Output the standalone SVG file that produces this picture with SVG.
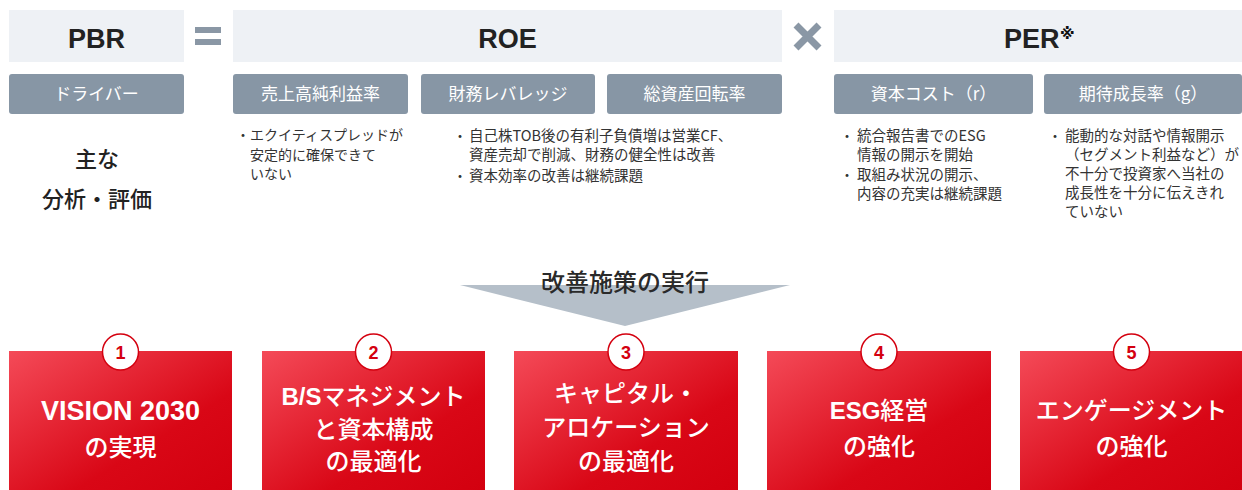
<svg xmlns="http://www.w3.org/2000/svg" width="1242" height="490" viewBox="0 0 1242 490">
  <defs>
    <linearGradient id="redGrad" x1="0" y1="0" x2="1" y2="1">
      <stop offset="0" stop-color="#f44a58"/>
      <stop offset="0.65" stop-color="#d90716"/>
      <stop offset="1" stop-color="#d3000f"/>
    </linearGradient>
    <style>
      .hdr { fill: #eef1f5; }
      .hdrText { font-family: 'Liberation Sans', 'Noto Sans CJK JP', sans-serif; font-weight: bold; font-size: 27px; fill: #222; text-anchor: middle; }
      .drv { fill: #8796a5; }
      .drvText { font-family: 'Noto Sans CJK JP', 'Liberation Sans', sans-serif; font-size: 17px; fill: #fff; text-anchor: middle; }
      .op { fill: #8a97a5; }
      .note { font-family: 'Noto Sans CJK JP', 'Liberation Sans', sans-serif; font-size: 14.5px; fill: #333; }
      .noteS { font-family: 'Noto Sans CJK JP', 'Liberation Sans', sans-serif; font-size: 14px; fill: #333; }
      .bullet { font-family: 'Noto Sans CJK JP', sans-serif; font-size: 14px; fill: #333; text-anchor: middle; }
      .main { font-family: 'Noto Sans CJK JP', sans-serif; font-size: 22px; font-weight: 500; fill: #222; text-anchor: middle; }
      .arrowText { font-family: 'Noto Sans CJK JP', sans-serif; font-size: 24px; font-weight: 500; fill: #2a2a2a; text-anchor: middle; }
      .red { fill: url(#redGrad); }
      .redText { font-family: 'Noto Sans CJK JP', 'Liberation Sans', sans-serif; font-size: 24px; font-weight: 500; fill: #fff; text-anchor: middle; }
      .lat { font-family: 'Liberation Sans', sans-serif; font-weight: bold; }
      .big { font-size: 27px; }
      .circ { fill: #fff; stroke: #d4000f; stroke-width: 1.5; }
      .num { font-family: 'Liberation Sans', sans-serif; font-size: 18px; font-weight: bold; fill: #d4000f; text-anchor: middle; }
      .mark { font-family: 'DejaVu Sans', 'Noto Sans CJK JP', sans-serif; font-size: 15px; font-weight: bold; fill: #111; }
    </style>
  </defs>

  <g id="header-pbr">
    <rect class="hdr" x="9" y="10" width="175" height="52"/>
    <text class="hdrText" x="96.5" y="47.5">PBR</text>
  </g>
  <g id="op-equals">
    <rect class="op" x="195" y="27" width="26" height="6"/>
    <rect class="op" x="195" y="39" width="26" height="6"/>
  </g>
  <g id="header-roe">
    <rect class="hdr" x="233" y="10" width="549" height="52"/>
    <text class="hdrText" x="507.5" y="47.5">ROE</text>
  </g>
  <g id="op-times">
    <path d="M796 25 L819 48 M819 25 L796 48" stroke="#8a97a5" stroke-width="7" fill="none"/>
  </g>
  <g id="header-per">
    <rect class="hdr" x="834" y="10" width="408" height="52"/>
    <text class="hdrText" x="1004" y="47.5" style="text-anchor:start">PER<tspan class="mark" x="1060" y="39">※</tspan></text>
  </g>

  <g id="driver-label">
    <rect class="drv" x="9" y="74" width="175" height="40" rx="3"/>
    <text class="drvText" x="96.5" y="100">ドライバー</text>
  </g>
  <g id="driver-margin">
    <rect class="drv" x="233" y="74" width="175" height="40" rx="3"/>
    <text class="drvText" x="320.5" y="100">売上高純利益率</text>
  </g>
  <g id="driver-leverage">
    <rect class="drv" x="421" y="74" width="174" height="40" rx="3"/>
    <text class="drvText" x="508" y="100">財務レバレッジ</text>
  </g>
  <g id="driver-turnover">
    <rect class="drv" x="607" y="74" width="175" height="40" rx="3"/>
    <text class="drvText" x="694.5" y="100">総資産回転率</text>
  </g>
  <g id="driver-cost">
    <rect class="drv" x="834" y="74" width="199" height="40" rx="3"/>
    <text class="drvText" x="933.5" y="100">資本コスト（r）</text>
  </g>
  <g id="driver-growth">
    <rect class="drv" x="1044" y="74" width="198" height="40" rx="3"/>
    <text class="drvText" x="1143" y="100">期待成長率（g）</text>
  </g>

  <g id="analysis-title">
    <text class="main" x="97" y="166.5">主な</text>
    <text class="main" x="97" y="206.5">分析・評価</text>
  </g>
  <g id="analysis-margin">
    <text class="bullet" x="243" y="140">・</text>
    <text class="noteS" x="250" y="140">エクイティスプレッドが</text>
    <text class="noteS" x="250" y="159.5">安定的に確保できて</text>
    <text class="noteS" x="250" y="179">いない</text>
  </g>
  <g id="analysis-roe">
    <text class="bullet" x="460" y="140.5">・</text>
    <text class="note" x="469" y="140.5">自己株TOB後の有利子負債増は営業CF、</text>
    <text class="note" x="469" y="160">資産売却で削減、財務の健全性は改善</text>
    <text class="bullet" x="460" y="181">・</text>
    <text class="note" x="469" y="181">資本効率の改善は継続課題</text>
  </g>
  <g id="analysis-cost">
    <text class="bullet" x="847" y="140.5">・</text>
    <text class="note" x="857" y="140.5">統合報告書でのESG</text>
    <text class="note" x="857" y="160">情報の開示を開始</text>
    <text class="bullet" x="847" y="180">・</text>
    <text class="note" x="857" y="180">取組み状況の開示、</text>
    <text class="note" x="857" y="199">内容の充実は継続課題</text>
  </g>
  <g id="analysis-growth">
    <text class="bullet" x="1055" y="140.5">・</text>
    <text class="note" x="1065" y="140.5">能動的な対話や情報開示</text>
    <text class="note" x="1065" y="160">（セグメント利益など）が</text>
    <text class="note" x="1065" y="179">不十分で投資家へ当社の</text>
    <text class="note" x="1065" y="198">成長性を十分に伝えきれ</text>
    <text class="note" x="1065" y="217">ていない</text>
  </g>

  <g id="connectors">
    <polygon points="460,285 790,285 625,326" fill="#b5bfc9"/>
  </g>
  <g id="action-label">
    <text class="arrowText" x="625" y="291">改善施策の実行</text>
  </g>

  <g id="measure-1">
    <rect class="red" x="9" y="351" width="223" height="139"/>
    <circle class="circ" cx="120.5" cy="352" r="18"/>
    <text class="num" x="120.5" y="358.5">1</text>
    <text class="redText" x="120.5" y="420"><tspan class="lat big">VISION 2030</tspan></text>
    <text class="redText" x="120.5" y="456">の実現</text>
  </g>
  <g id="measure-2">
    <rect class="red" x="262" y="351" width="223" height="139"/>
    <circle class="circ" cx="373.5" cy="352" r="18"/>
    <text class="num" x="373.5" y="358.5">2</text>
    <text class="redText" x="373.5" y="405"><tspan class="lat">B/S</tspan>マネジメント</text>
    <text class="redText" x="373.5" y="437.5">と資本構成</text>
    <text class="redText" x="373.5" y="470">の最適化</text>
  </g>
  <g id="measure-3">
    <rect class="red" x="514" y="351" width="224" height="139"/>
    <circle class="circ" cx="626" cy="352" r="18"/>
    <text class="num" x="626" y="358.5">3</text>
    <text class="redText" x="626" y="402">キャピタル・</text>
    <text class="redText" x="626" y="435.5">アロケーション</text>
    <text class="redText" x="626" y="470">の最適化</text>
  </g>
  <g id="measure-4">
    <rect class="red" x="767" y="351" width="224" height="139"/>
    <circle class="circ" cx="879" cy="352" r="18"/>
    <text class="num" x="879" y="358.5">4</text>
    <text class="redText" x="879" y="419"><tspan class="lat">ESG</tspan>経営</text>
    <text class="redText" x="879" y="455">の強化</text>
  </g>
  <g id="measure-5">
    <rect class="red" x="1020" y="351" width="222" height="139"/>
    <circle class="circ" cx="1131.5" cy="352" r="18"/>
    <text class="num" x="1131.5" y="358.5">5</text>
    <text class="redText" x="1131.5" y="419">エンゲージメント</text>
    <text class="redText" x="1131.5" y="455">の強化</text>
  </g>
</svg>
